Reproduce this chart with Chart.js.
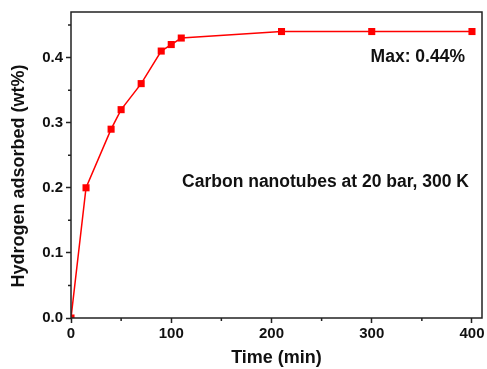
<!DOCTYPE html>
<html>
<head>
<meta charset="utf-8">
<script src="https://cdn.jsdelivr.net/npm/chart.js@4"></script>
<style>
  body { margin: 0; background: #fff; }
  canvas { display: block; }
</style>
</head>
<body>
<canvas id="h2Chart" width="487" height="369"></canvas>
<script>
// Adsorption data
const timeMin = [0, 15, 40, 50, 70, 90, 100, 110, 210, 300, 400];
const adsorbed = [0, 0.20, 0.29, 0.32, 0.36, 0.41, 0.42, 0.43, 0.44, 0.44, 0.44];
const xTicks = [0, 100, 200, 300, 400];
const yTicks = [0.0, 0.1, 0.2, 0.3, 0.4];
const notes = [
    { text: 'Max: 0.44%', x: 393, y: 0.40 },
    { text: 'Carbon nanotubes at 20 bar, 300 K', x: 397, y: 0.208 }
];
const yTitle = 'Hydrogen adsorbed (wt%)';

const FONT = 'Liberation Sans, Arial, sans-serif';
const INK = '#222';

// Frame, minor ticks, y title and the two text notes
const extras = {
    id: 'extras',
    afterDraw(chart) {
        const ctx = chart.ctx;
        const a = chart.chartArea;
        const xs = chart.scales.x, ys = chart.scales.y;
        ctx.save();
        ctx.strokeStyle = INK;
        ctx.lineWidth = 1.5;
        // minor ticks
        ctx.beginPath();
        for (let v = 50; v <= 400; v += 100) {
            const px = xs.getPixelForValue(v);
            ctx.moveTo(px, a.bottom);
            ctx.lineTo(px, a.bottom + 3);
        }
        for (let v = 0.05; v <= 0.46; v += 0.1) {
            const py = ys.getPixelForValue(v);
            ctx.moveTo(a.left, py);
            ctx.lineTo(a.left - 3, py);
        }
        ctx.stroke();
        ctx.strokeRect(a.left, a.top, a.right - a.left, a.bottom - a.top);
        ctx.fillStyle = '#111';
        // y title, sits a bit lower than the axis middle
        ctx.save();
        ctx.translate(19, ys.getPixelForValue(0.218));
        ctx.rotate(-Math.PI / 2);
        ctx.font = 'bold 18px ' + FONT;
        ctx.textAlign = 'center';
        ctx.textBaseline = 'middle';
        ctx.fillText(yTitle, 0, 0);
        ctx.restore();
        // notes
        ctx.font = 'bold 17.5px ' + FONT;
        ctx.textAlign = 'right';
        ctx.textBaseline = 'middle';
        notes.forEach(n => {
            ctx.fillText(n.text, xs.getPixelForValue(n.x), ys.getPixelForValue(n.y));
        });
        ctx.restore();
    }
};

new Chart(document.getElementById('h2Chart'), {
    type: 'line',
    data: {
        datasets: [{
            data: timeMin.map((t, i) => ({ x: t, y: adsorbed[i] })),
            borderColor: '#ff0000',
            backgroundColor: '#ff0000',
            borderWidth: 1.5,
            pointStyle: 'rect',
            pointRadius: 5,
            pointBorderWidth: 0,
            tension: 0
        }]
    },
    options: {
        responsive: false,
        animation: false,
        layout: { padding: { top: 11, right: 2, left: 0, bottom: 0 } },
        plugins: { legend: { display: false }, tooltip: { enabled: false } },
        scales: {
            x: {
                type: 'linear',
                min: 0,
                max: 410,
                afterBuildTicks: s => { s.ticks = xTicks.map(v => ({ value: v })); },
                afterFit: s => { s.height = 51; },
                border: { display: false },
                grid: { drawOnChartArea: false, tickLength: 5, tickColor: INK, tickWidth: 1.5 },
                ticks: { color: '#111', font: { family: FONT, size: 15, weight: 'bold' }, padding: 2, maxRotation: 0 },
                title: { display: true, text: 'Time (min)', color: '#111', font: { family: FONT, size: 18, weight: 'bold' }, padding: { top: 0, bottom: 0 } }
            },
            y: {
                min: 0,
                max: 0.47,
                afterBuildTicks: s => { s.ticks = yTicks.map(v => ({ value: v })); },
                afterFit: s => { s.width = 71; },
                border: { display: false },
                grid: { drawOnChartArea: false, tickLength: 5, tickColor: INK, tickWidth: 1.5 },
                ticks: { color: '#111', font: { family: FONT, size: 15, weight: 'bold' }, padding: 3, callback: v => v.toFixed(1) }
            }
        }
    },
    plugins: [extras]
});
</script>
</body>
</html>
